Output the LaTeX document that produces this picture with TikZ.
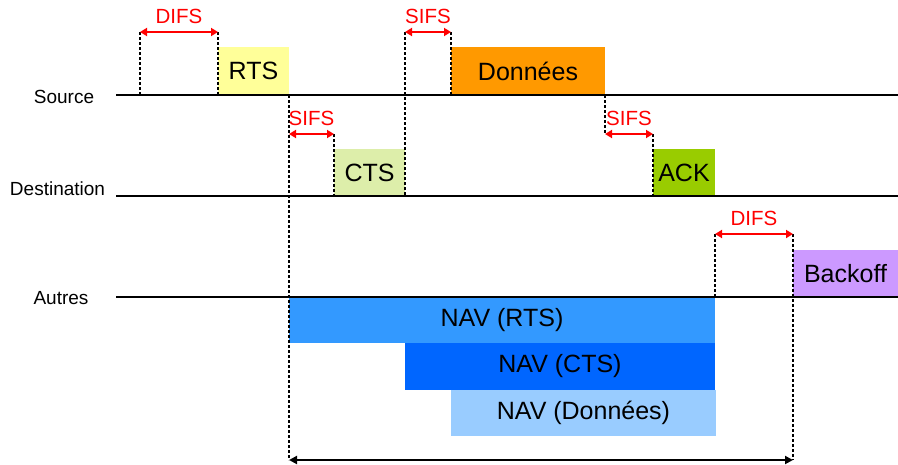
\documentclass[tikz,border=0pt]{standalone}
\usepackage{fontspec}
\setmainfont{Liberation Sans}
\usetikzlibrary{arrows.meta}
\definecolor{rtsc}{HTML}{FFFF99}
\definecolor{ctsc}{HTML}{DDEEAA}
\definecolor{datac}{HTML}{FF9900}
\definecolor{ackc}{HTML}{99CC00}
\definecolor{bkc}{HTML}{CC99FF}
\definecolor{navone}{HTML}{3399FF}
\definecolor{navtwo}{HTML}{0066FF}
\definecolor{navthree}{HTML}{99CCFF}
\definecolor{ifsred}{HTML}{FF0000}
\begin{document}
\begin{tikzpicture}[x=1pt,y=-1pt,
  frm/.style={draw=none,inner sep=0pt,outer sep=0pt,anchor=south west,
    font=\fontsize{25}{29}\selectfont},
  lbl/.style={inner sep=0pt,font=\fontsize{19}{22}\selectfont},
  ifs/.style={inner sep=0pt,text=ifsred,font=\fontsize{20.5}{24}\selectfont},
  tl/.style={line width=2pt},
  dsh/.style={line width=1.5pt,dash pattern=on 3pt off 2pt},
  ifsarrow/.style={draw=ifsred,line width=2.2pt,{Triangle[length=7pt,width=8pt]}-{Triangle[length=7pt,width=8pt]}},
  blkarrow/.style={line width=2pt,{Triangle[length=8pt,width=8pt]}-{Triangle[length=8pt,width=8pt]}}
]
\useasboundingbox[fill=white] (0,0) rectangle (898,464);

% timelines
\coordinate (s0) at (116,95);  \coordinate (s1) at (898,95);
\coordinate (d0) at (116,196); \coordinate (d1) at (898,196);
\coordinate (a0) at (116,297); \coordinate (a1) at (898,297);
\node[lbl] (src) at (64,97) {Source};
\node[lbl] (dst) at (57.5,189) {Destination};
\node[lbl] (aut) at (61,298) {Autres};

% frames
\node[frm,fill=navone,minimum width=426,minimum height=46] (navrts) at (289,343) {NAV (RTS)};
\node[frm,fill=navtwo,minimum width=310,minimum height=47] (navcts) at (405,390) {NAV (CTS)};
\node[frm,fill=navthree,minimum width=265,minimum height=46] (navdat) at (451,436) {NAV (Données)};
\node[frm,fill=rtsc,minimum width=71,minimum height=48] (rts) at (218,95) {RTS};
\node[frm,fill=ctsc,minimum width=71,minimum height=47] (cts) at (334,196) {CTS};
\node[frm,fill=datac,minimum width=154,minimum height=48] (data) at (451,95) {Données};
\node[frm,fill=ackc,minimum width=62,minimum height=47] (ack) at (653,196) {ACK};
\node[frm,fill=bkc,minimum width=105,minimum height=47] (bk) at (793,297) {Backoff};

\draw[tl] (s0) -- (s1);
\draw[tl] (d0) -- (d1);
\draw[tl] (a0) -- (a1);

% key coordinates
\coordinate (p1t) at (140,32);  \coordinate (p1b) at (140,95);
\coordinate (p2t) at (218,32);
\coordinate (p3t) at (289,134); \coordinate (p3b) at (289,460);
\coordinate (p4t) at (334,134);
\coordinate (p5t) at (405,32);  \coordinate (p5b) at (405,196);
\coordinate (p6t) at (451,32);
\coordinate (p7t) at (605,95);  \coordinate (p7m) at (605,134);
\coordinate (p8t) at (653,134);
\coordinate (p9t) at (715,234); \coordinate (p9b) at (715,297);
\coordinate (p10t) at (793,234); \coordinate (p10b) at (793,460);

% dashed markers
\draw[dsh] (p1t) -- (p1b);
\draw[dsh] (p2t) -- (rts.south west);
\draw[dsh] (rts.south east) -- (p3b);
\draw[dsh] (p4t) -- (cts.south west);
\draw[dsh] (p5t) -- (p5b);
\draw[dsh] (p6t) -- (data.south west);
\draw[dsh] (p7t) -- (p7m);
\draw[dsh] (p8t) -- (ack.south west);
\draw[dsh] (p9t) -- (p9b);
\draw[dsh] (p10t) -- (p10b);

% interframe spaces
\draw[ifsarrow] (p1t) -- node[ifs,above=7pt] (difs1) {DIFS} (p2t);
\draw[ifsarrow] (p3t) -- node[ifs,above=7pt] (sifs1) {SIFS} (p4t);
\draw[ifsarrow] (p5t) -- node[ifs,above=7pt] (sifs2) {SIFS} (p6t);
\draw[ifsarrow] (p7m) -- node[ifs,above=7pt] (sifs3) {SIFS} (p8t);
\draw[ifsarrow] (p9t) -- node[ifs,above=7pt] (difs2) {DIFS} (p10t);

% total duration
\draw[blkarrow] (p3b) -- (p10b);
\end{tikzpicture}
\end{document}
